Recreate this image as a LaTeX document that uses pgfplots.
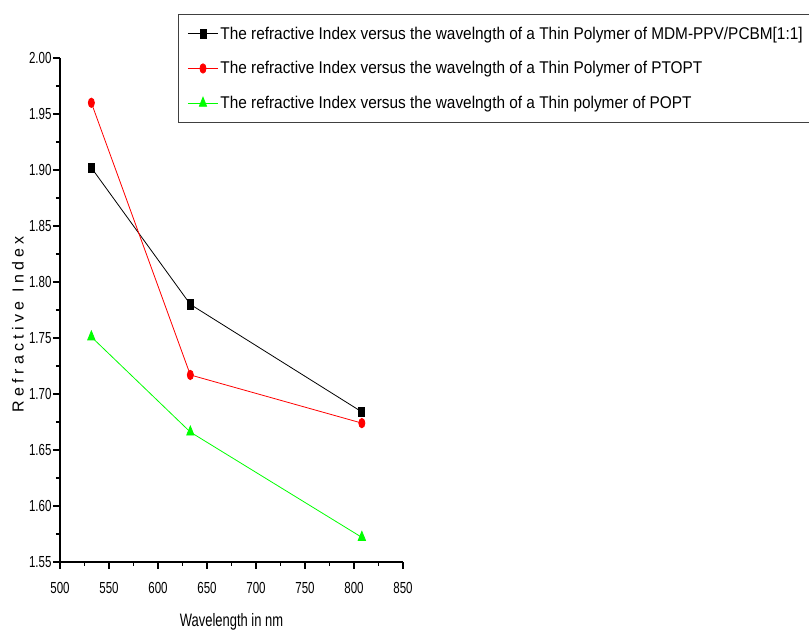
\documentclass[border=0pt]{standalone}
\usepackage{fontspec}
\setmainfont{Liberation Sans}[FakeStretch=0.72]
\newfontfamily\ylabfont{Liberation Sans}[LetterSpace=27]
\newfontfamily\legfont{Liberation Sans}[FakeStretch=0.905]
\usepackage{pgfplots}
\pgfplotsset{compat=1.18}
\definecolor{pgreen}{RGB}{0,255,0}
\definecolor{pred}{RGB}{255,0,0}
\begin{document}
\begin{tikzpicture}
\path[use as bounding box] (-60pt,-74pt) rectangle (749pt,562pt);
\begin{axis}[
  at={(0pt,0pt)}, anchor=south west,
  scale only axis, width=343pt, height=504pt,
  xmin=500, xmax=850, ymin=1.55, ymax=2.00,
  axis x line*=bottom, axis y line*=left,
  axis line style={line width=1.1pt, black},
  xtick={500,550,600,650,700,750,800,850},
  ytick={1.55,1.60,1.65,1.70,1.75,1.80,1.85,1.90,1.95,2.00},
  minor tick num=1,
  tick align=outside,
  major tick length=7pt, minor tick length=4pt,
  every tick/.style={line width=1.1pt, black},
  /pgf/number format/assume math mode=true,
  yticklabel style={/pgf/number format/fixed, /pgf/number format/fixed zerofill, /pgf/number format/precision=2, font=\fontsize{16}{16}\selectfont, xshift=2pt},
  xticklabel style={/pgf/number format/1000 sep={}, font=\fontsize{16}{16}\selectfont, yshift=-10pt},
  xlabel={Wavelength in nm},
  xlabel style={at={(axis description cs:0.5,-0.119)}, anchor=center, font=\fontsize{18}{18}\selectfont},
  ylabel={Refractive Index},
  ylabel style={at={(axis description cs:-0.1224,0.472)}, anchor=center, font=\ylabfont\fontsize{16}{16}\selectfont},
  legend style={at={(axis description cs:0.344,1.087)}, anchor=north west,
    draw=black!75, line width=1.2pt, font=\legfont\fontsize{17}{17}\selectfont,
    row sep=17pt, inner xsep=9pt, inner ysep=10pt},
  legend cell align=left,
  legend image code/.code={\draw[mark repeat=2,mark phase=2] plot coordinates {(0pt,0pt) (15pt,0pt) (30pt,0pt)};},
]
\addplot[black, line width=0.8pt, mark=square*, mark size=4.6pt, mark options={xscale=0.65, solid}]
  coordinates {(532,1.902) (633,1.780) (808,1.684)};
\addlegendentry{The refractive Index versus the wavelngth of a Thin Polymer of MDM-PPV/PCBM[1:1]\hspace*{20pt}}
\addplot[pred, line width=0.8pt, mark=*, mark size=4.7pt, mark options={xscale=0.65, solid}]
  coordinates {(532,1.960) (633,1.717) (808,1.674)};
\addlegendentry{The refractive Index versus the wavelngth of a Thin Polymer of PTOPT}
\addplot[pgreen, line width=0.8pt, mark=triangle*, mark size=6pt, mark options={xscale=0.7, solid}]
  coordinates {(532,1.751) (633,1.666) (808,1.572)};
\addlegendentry{The refractive Index versus the wavelngth of a Thin polymer of POPT}
\end{axis}
\end{tikzpicture}
\end{document}
